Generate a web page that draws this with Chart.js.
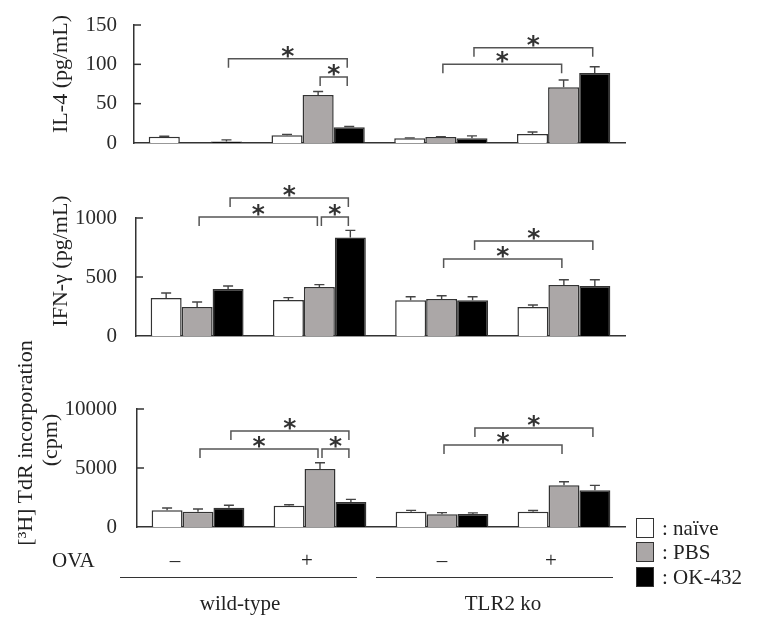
<!DOCTYPE html>
<html><head><meta charset="utf-8">
<script src="https://cdn.jsdelivr.net/npm/chart.js@4"></script>
<style>
html,body{margin:0;padding:0;background:#fff;}
#wrap{position:relative;width:757px;height:621px;overflow:hidden;font-family:"Liberation Serif","Times New Roman",serif;color:#222;}
canvas{position:absolute;left:0;top:0;}
.t{position:absolute;white-space:nowrap;font-size:21px;line-height:22px;}
.rot{transform:translate(-50%,-50%) rotate(-90deg);}
.ctr{transform:translate(-50%,-50%);}
.box{position:absolute;width:16px;height:18px;border:1.5px solid #333;}
.hl{position:absolute;height:0;border-top:1.5px solid #333;}
</style></head>
<body><div id="wrap">
<canvas id="c1" width="757" height="621" style="width:757px;height:621px"></canvas>
<canvas id="c2" width="757" height="621" style="width:757px;height:621px"></canvas>
<canvas id="c3" width="757" height="621" style="width:757px;height:621px"></canvas>

<div class="t rot" style="left:60px;top:74px;font-size:22px">IL-4 (pg/mL)</div>
<div class="t rot" style="left:60px;top:261px;font-size:22px">IFN-γ (pg/mL)</div>
<div class="t rot" style="left:25px;top:443px;font-size:22px">[³H] TdR incorporation</div>
<div class="t rot" style="left:50px;top:440px;font-size:22px">(cpm)</div>

<div class="t" style="left:52px;top:549px">OVA</div>
<div class="t ctr" style="left:175px;top:560px">–</div>
<div class="t ctr" style="left:307px;top:560px">+</div>
<div class="t ctr" style="left:442px;top:560px">–</div>
<div class="t ctr" style="left:551px;top:560px">+</div>
<div class="hl" style="left:120px;top:577px;width:237px"></div>
<div class="hl" style="left:376px;top:577px;width:237px"></div>
<div class="t ctr" style="left:240px;top:603px">wild-type</div>
<div class="t ctr" style="left:503px;top:603px">TLR2 ko</div>

<div class="box" style="left:636px;top:518px;background:#fff"></div>
<div class="box" style="left:636px;top:542px;background:#aba7a7"></div>
<div class="box" style="left:636px;top:567px;background:#000"></div>
<div class="t" style="left:662px;top:517px">: naïve</div>
<div class="t" style="left:662px;top:541px">: PBS</div>
<div class="t" style="left:662px;top:566px">: OK-432</div>
</div>
<script>
// ---- data ----
const categories = ['wild-type OVA−', 'wild-type OVA+', 'TLR2 ko OVA−', 'TLR2 ko OVA+'];
const seriesNames = ['naïve', 'PBS', 'OK-432'];

const il4Naive = [8, 10, 6, 11.5];
const il4Pbs   = [0, 61, 7.5, 71];
const il4Ok    = [2, 20, 6, 89];
const il4NaiveErr = [0.5, 1, 0.5, 2.5];
const il4PbsErr   = [0, 4.5, 0.5, 9];
const il4OkErr    = [2, 1, 3, 8];
const il4Ticks = [0, 50, 100, 150];

const ifnNaive = [322, 305, 303, 246];
const ifnPbs   = [246, 415, 314, 432];
const ifnOk    = [398, 835, 303, 424];
const ifnNaiveErr = [43, 20, 30, 17];
const ifnPbsErr   = [42, 20, 27, 45];
const ifnOkErr    = [26, 60, 30, 53];
const ifnTicks = [0, 500, 1000];

const tdrNaive = [1415, 1805, 1300, 1300];
const tdrPbs   = [1300, 4915, 1075, 3530];
const tdrOk    = [1640, 2120, 1100, 3110];
const tdrNaiveErr = [195, 85, 110, 100];
const tdrPbsErr   = [225, 535, 145, 310];
const tdrOkErr    = [200, 225, 100, 420];
const tdrTicks = [0, 5000, 10000];

// significance brackets: [category, series] -> [category, series], bracket level in data units
const il4Sig = [
  {from: [0, 2], to: [1, 2], level: 107},
  {from: [1, 1], to: [1, 2], level: 84},
  {from: [2, 1], to: [3, 1], level: 100},
  {from: [2, 2], to: [3, 2], level: 121}
];
const ifnSig = [
  {from: [0, 2], to: [1, 2], level: 1169},
  {from: [0, 1], to: [1, 1], level: 1008},
  {from: [1, 1], to: [1, 2], level: 1008},
  {from: [2, 1], to: [3, 1], level: 653},
  {from: [2, 2], to: [3, 2], level: 805}
];
const tdrSig = [
  {from: [0, 2], to: [1, 2], level: 8136},
  {from: [0, 1], to: [1, 1], level: 6610},
  {from: [1, 1], to: [1, 2], level: 6610},
  {from: [2, 1], to: [3, 1], level: 6949},
  {from: [2, 2], to: [3, 2], level: 8390}
];

// ---- styles ----
const fills = ['#ffffff', '#aba7a7', '#000000'];
const ink = '#333333';

const annot = {
  id: 'annot',
  afterDatasetsDraw(chart, args, opts) {
    const ctx = chart.ctx;
    const y = chart.scales.y;
    const area = chart.chartArea;
    ctx.save();
    ctx.strokeStyle = '#444';
    ctx.lineWidth = 1.4;
    // error bars
    opts.errors.forEach((errs, di) => {
      const meta = chart.getDatasetMeta(di);
      meta.data.forEach((el, i) => {
        const v = chart.data.datasets[di].data[i];
        if (!errs[i]) return;
        const top = y.getPixelForValue(v + errs[i]);
        ctx.beginPath();
        ctx.moveTo(el.x, el.y);
        ctx.lineTo(el.x, top);
        ctx.moveTo(el.x - 5, top);
        ctx.lineTo(el.x + 5, top);
        ctx.stroke();
      });
    });
    // inward y ticks
    ctx.strokeStyle = ink;
    ctx.lineWidth = 1.5;
    y.ticks.forEach(t => {
      if (t.value === 0) return;
      const py = y.getPixelForValue(t.value);
      ctx.beginPath();
      ctx.moveTo(area.left, py);
      ctx.lineTo(area.left + 7, py);
      ctx.stroke();
    });
    // brackets
    ctx.strokeStyle = '#555';
    ctx.lineWidth = 1.5;
    ctx.fillStyle = '#333';
    ctx.font = 'bold 25px "DejaVu Sans"';
    ctx.textAlign = 'center';
    ctx.textBaseline = 'alphabetic';
    opts.sig.forEach(s => {
      const x1 = chart.getDatasetMeta(s.from[1]).data[s.from[0]].x + 2;
      const x2 = chart.getDatasetMeta(s.to[1]).data[s.to[0]].x - 2;
      const py = y.getPixelForValue(s.level);
      ctx.beginPath();
      ctx.moveTo(x1, py + 9);
      ctx.lineTo(x1, py);
      ctx.lineTo(x2, py);
      ctx.lineTo(x2, py + 9);
      ctx.stroke();
      ctx.fillText('*', (x1 + x2) / 2, py + 5);
    });
    ctx.restore();
  }
};

function makeChart(id, sets, errs, ticks, sig, box) {
  const maxV = ticks[ticks.length - 1];
  return new Chart(document.getElementById(id), {
    type: 'bar',
    data: {
      labels: categories,
      datasets: sets.map((d, i) => ({
        label: seriesNames[i],
        data: d,
        backgroundColor: fills[i],
        borderColor: ink,
        borderWidth: 1.5,
        categoryPercentage: 0.76,
        barPercentage: 1.0
      }))
    },
    options: {
      responsive: false,
      animation: false,
      events: [],
      layout: {padding: {left: 0, right: 757 - box.right, top: box.top, bottom: 621 - box.bottom}},
      plugins: {legend: {display: false}, tooltip: {enabled: false}, annot: {errors: errs, sig: sig}},
      scales: {
        x: {
          type: 'category',
          grid: {display: false, drawTicks: false},
          border: {display: true, color: ink, width: 1.5},
          ticks: {display: false},
          afterFit(s) { s.height = 0; s.paddingLeft = 0; s.paddingRight = 0; }
        },
        y: {
          min: 0, max: maxV,
          afterBuildTicks(s) { s.ticks = ticks.map(v => ({value: v})); },
          grid: {display: false, drawTicks: false},
          border: {display: true, color: ink, width: 1.5},
          ticks: {
            padding: box.left - 117,
            color: '#2a2a2a',
            font: {family: '"Liberation Serif", "Times New Roman", serif', size: 21},
            callback: v => String(v)
          },
          afterFit(s) { s.width = box.left; s.paddingTop = 0; s.paddingBottom = 0; }
        }
      }
    },
    plugins: [annot]
  });
}

makeChart('c1', [il4Naive, il4Pbs, il4Ok], [il4NaiveErr, il4PbsErr, il4OkErr], il4Ticks, il4Sig,
  {left: 134, right: 625, top: 25, bottom: 143});
makeChart('c2', [ifnNaive, ifnPbs, ifnOk], [ifnNaiveErr, ifnPbsErr, ifnOkErr], ifnTicks, ifnSig,
  {left: 136, right: 625, top: 218, bottom: 336});
makeChart('c3', [tdrNaive, tdrPbs, tdrOk], [tdrNaiveErr, tdrPbsErr, tdrOkErr], tdrTicks, tdrSig,
  {left: 137, right: 625, top: 409, bottom: 527});
</script>
</body></html>
